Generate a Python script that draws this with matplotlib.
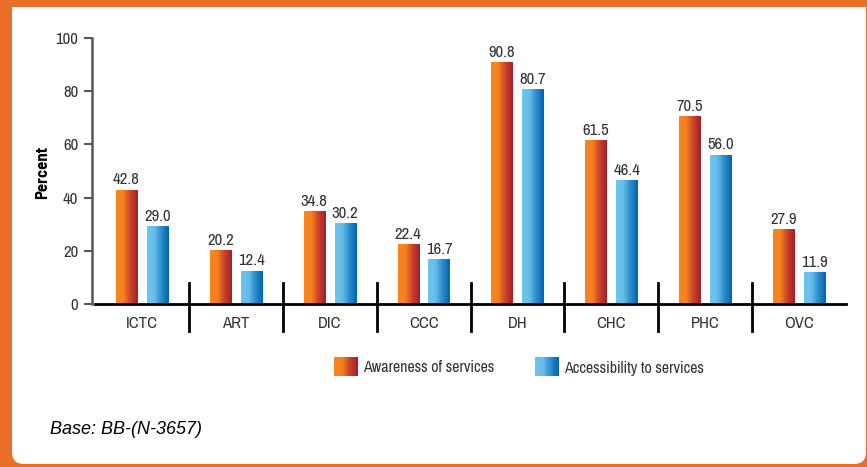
import matplotlib.pyplot as plt
import numpy as np
from matplotlib.colors import LinearSegmentedColormap
from matplotlib.patches import Rectangle, FancyBboxPatch

plt.rcParams['font.family'] = ['Archivo Narrow', 'DejaVu Sans']

# Données
categories = ["ICTC", "ART", "DIC", "CCC", "DH", "CHC", "PHC", "OVC"]
awareness = [42.8, 20.2, 34.8, 22.4, 90.8, 61.5, 70.5, 27.9]
accessibility = [29.0, 12.4, 30.2, 16.7, 80.7, 46.4, 56.0, 11.9]
series_names = ["Awareness of services", "Accessibility to services"]

W, H = 867, 467
fig = plt.figure(figsize=(W / 100, H / 100), dpi=100)

# Cadre orange
orange = "#E96F26"
bg = fig.add_axes([0, 0, 1, 1])
bg.set_xlim(0, W)
bg.set_ylim(H, 0)
bg.axis("off")
bg.add_patch(Rectangle((0, 0), W, H, color=orange))
bg.add_patch(FancyBboxPatch((12 + 12, 7 + 12), W - 13 - 24, 464 - 7 - 24,
                            boxstyle="round,pad=12", color="white", lw=0))
bg.add_patch(Rectangle((12, 7), W - 13, 40, color="white", lw=0))

cmap_or = LinearSegmentedColormap.from_list("or", ["#F7861F", "#F4821F", "#C9412A", "#A31F2E"])
cmap_bl = LinearSegmentedColormap.from_list("bl", ["#6EC6EE", "#66BDE8", "#2A8ACB", "#0065B0"])
grad = np.linspace(0, 1, 64).reshape(1, -1)

ax = fig.add_axes([95 / W, 1 - 304 / H, (846 - 95) / W, (304 - 38) / H])

off = 0.165
bw = 0.225
x = np.arange(len(categories))
txt = "#333333"


def gradient_bars(xs, vals, cmap):
    for xi, v in zip(xs, vals):
        ax.imshow(grad, cmap=cmap, aspect="auto", extent=[xi - bw / 2, xi + bw / 2, 0, v],
                  zorder=2, interpolation="bilinear")
        ax.text(xi, v + 1.0, f"{v:.1f}", ha="center", va="bottom", fontsize=12, color=txt)


gradient_bars(x - off, awareness, cmap_or)
gradient_bars(x + off, accessibility, cmap_bl)
ax.set_xlim(-0.5, len(categories) - 0.5)
ax.set_ylim(0, 100)

for s in ["top", "right"]:
    ax.spines[s].set_visible(False)
ax.spines["left"].set_color("#555555")
ax.spines["left"].set_linewidth(1.8)
ax.spines["bottom"].set_color("black")
ax.spines["bottom"].set_linewidth(2)
ax.spines["left"].set_position(("outward", 2))
ax.set_yticks(range(0, 101, 20))
ax.tick_params(axis="y", length=6, width=1.5, color="#555555", labelsize=12, labelcolor=txt, pad=4)
ax.set_xticks([])
for xi, c in zip(x, categories):
    ax.text(xi, -4.5, c, ha="center", va="top", fontsize=12, color=txt)
# séparateurs
for xi in x[:-1] + 0.5:
    ax.plot([xi, xi], [-10, 8], color="black", lw=2, clip_on=False, zorder=3)

fig.text(43 / W, 1 - 172 / H, "Percent", rotation=90, ha="center", va="center",
         fontsize=12, fontweight="bold", family=["Barlow Semi Condensed", "DejaVu Sans"], color="black")

# Légende
for lx, cmap, name in [(334, cmap_or, series_names[0]), (535, cmap_bl, series_names[1])]:
    lax = fig.add_axes([lx / W, 1 - 376 / H, 24 / W, 19 / H])
    lax.imshow(grad, cmap=cmap, aspect="auto", interpolation="bilinear")
    lax.axis("off")
    fig.text((lx + 29) / W, 1 - 368 / H, name, fontsize=11.5, color=txt, va="center")

fig.text(50 / W, 1 - 430 / H, "Base: BB-(N-3657)", fontsize=13, style="italic",
         family=["Liberation Sans", "DejaVu Sans"], color="black", va="center")

fig.savefig("out.png", dpi=100)
